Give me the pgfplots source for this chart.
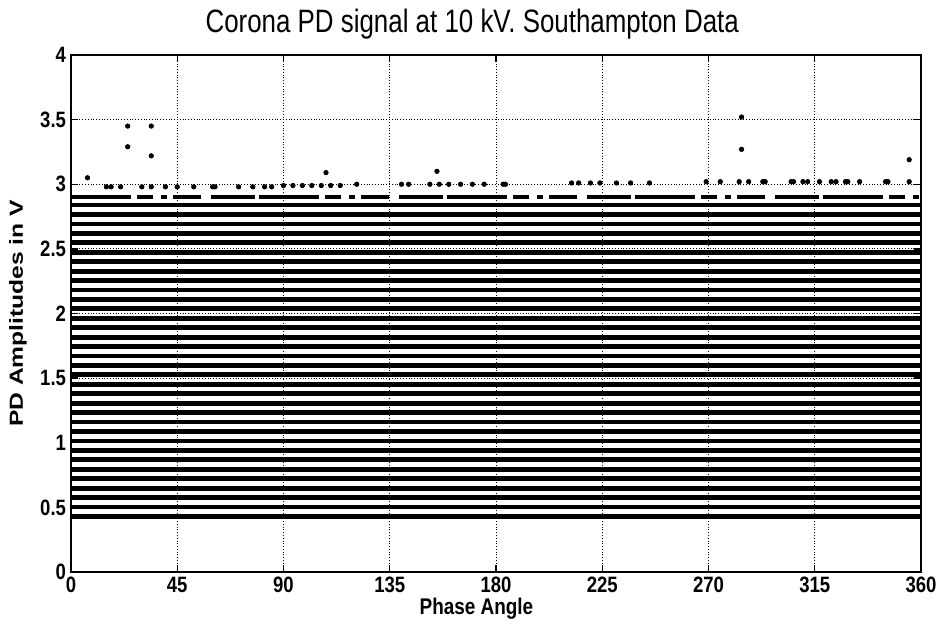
\documentclass[border=0pt]{standalone}
\usepackage{fontspec}
\setmainfont{Liberation Sans}
\usepackage{pgfplots}
\pgfplotsset{compat=1.18}
\begin{document}
\begin{tikzpicture}
\useasboundingbox (-35.5bp,-26.5bp) rectangle (437.5bp,286bp);
\begin{axis}[
  at={(0,0)}, anchor=south west,
  scale only axis, width=425bp, height=258.5bp,
  xmin=0, xmax=360, ymin=0, ymax=4,
  xtick={0,45,...,360}, ytick={0,0.5,...,4},
  grid=major,
  major grid style={black, densely dotted, line width=0.5bp},
  tick align=inside, major tick length=3.5bp,
  axis line style={line width=0.9bp},
  every tick/.style={black, line width=0.7bp},
  /pgf/number format/assume math mode=true,
  ticklabel style={font=\fontsize{9.3}{10}\selectfont\bfseries, yscale=1.2},
  yticklabel style={xshift=1bp},
  xticklabel style={yshift=1.5bp},
  title={Corona PD signal at 10 kV. Southampton Data},
  title style={font=\fontsize{13}{14}\selectfont, yscale=1.25, at={(axis description cs:0.472,1.037)}, anchor=center},
  xlabel={Phase Angle},
  xlabel style={font=\fontsize{9.5}{10}\selectfont\bfseries, yscale=1.2, at={(axis description cs:0.477,-0.07)}, anchor=center},
  ylabel={PD Amplitudes in V},
  ylabel style={font=\fontsize{9.5}{10}\selectfont\bfseries, xscale=1.3, at={(axis description cs:-0.0624,0.5)}, anchor=center},
  clip=true,
]
% quantised amplitude bands (each band is a dense row of PD pulses)
\pgfplotsinvokeforeach{0.430,0.503,0.576,0.649,0.722,0.795,0.868,0.941,1.014,1.087,1.160,1.233,1.306,1.379,1.452,1.525,1.598,1.671,1.744,1.817,1.890,1.963,2.036,2.109,2.182,2.255,2.328,2.401,2.474,2.547,2.620,2.693,2.766,2.839}{
  \addplot[black, line width=2.4bp, no marks] coordinates {(0,#1) (360,#1)};
}
% sparse band just above
\addplot[black, line width=2bp, no marks, dash pattern=on 30bp off 3bp on 8bp off 4bp on 3bp off 3bp on 14bp off 5bp on 22bp off 2bp]
  coordinates {(0,2.905) (360,2.905)};
% scattered pulses near 3 V
\addplot[only marks, mark=*, mark size=1.1bp, black] coordinates {
(15,2.98) (17,2.98) (21,2.98) (30,2.98) (34,2.98) (40,2.98) (45,2.98) (52,2.98) (60,2.98) (61,2.98)
(71,2.98) (77,2.98) (82,2.98) (85,2.98) (90,2.99) (94,2.99) (98,2.99) (102,2.99) (106,2.99) (110,2.99)
(114,2.99) (121,3.00) (140,3.00) (143,3.00) (152,3.00) (156,3.00) (160,3.00) (165,3.00) (170,3.00) (175,3.00)
(183,3.00) (184,3.00) (212,3.01) (215,3.01) (220,3.01) (224,3.01) (231,3.01) (237,3.01) (245,3.01)
(269,3.02) (275,3.02) (283,3.02) (287,3.02) (293,3.02) (294,3.02) (305,3.02) (306,3.02) (310,3.02) (312,3.02)
(317,3.02) (322,3.02) (324,3.02) (328,3.02) (329,3.02) (334,3.02) (345,3.02) (346,3.02) (355,3.02)
(7,3.05) (24,3.45) (24,3.29) (34,3.45) (34,3.22) (108,3.09) (155,3.10) (284,3.52) (284,3.27) (355,3.19)
};
\end{axis}
\end{tikzpicture}
\end{document}
